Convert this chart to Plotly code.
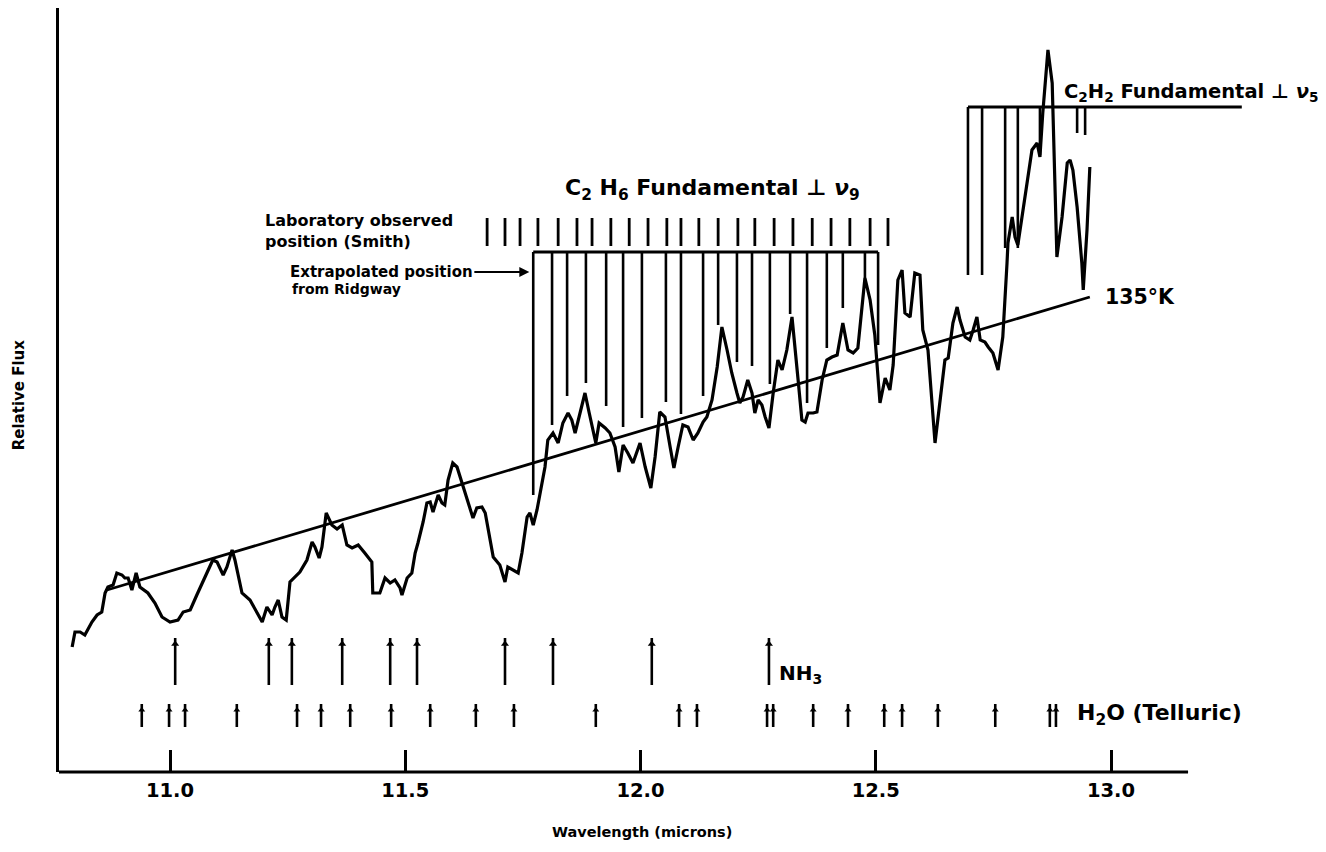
import plotly.graph_objects as go

# ---------------- data (wavelength in microns, relative flux in arbitrary units) ----------------
spec_wl = [10.792, 10.798, 10.809, 10.819, 10.834, 10.845, 10.855, 10.862, 10.868, 10.879,
           10.887, 10.898, 10.904, 10.911, 10.919, 10.928, 10.936, 10.953, 10.968, 10.983,
           11.000, 11.017, 11.028, 11.043, 11.057, 11.079, 11.091, 11.100, 11.113, 11.121,
           11.132, 11.138, 11.153, 11.170, 11.185, 11.196, 11.206, 11.217, 11.223, 11.230,
           11.238, 11.247, 11.255, 11.266, 11.276, 11.291, 11.302, 11.308, 11.317, 11.323,
           11.332, 11.344, 11.355, 11.366, 11.376, 11.387, 11.400, 11.414, 11.429, 11.431,
           11.446, 11.457, 11.468, 11.478, 11.489, 11.493, 11.504, 11.514, 11.521, 11.527,
           11.538, 11.546, 11.553, 11.559, 11.570, 11.578, 11.584, 11.591, 11.601, 11.610,
           11.623, 11.633, 11.644, 11.652, 11.663, 11.670, 11.676, 11.687, 11.701, 11.712,
           11.718, 11.729, 11.740, 11.748, 11.759, 11.765, 11.772, 11.780, 11.791, 11.797,
           11.803, 11.814, 11.825, 11.835, 11.846, 11.854, 11.861, 11.871, 11.882, 11.891,
           11.899, 11.905, 11.912, 11.925, 11.935, 11.946, 11.954, 11.963, 11.973, 11.984,
           11.999, 12.010, 12.022, 12.031, 12.041, 12.052, 12.063, 12.071, 12.080, 12.090,
           12.101, 12.112, 12.122, 12.133, 12.141, 12.152, 12.163, 12.173, 12.184, 12.194,
           12.205, 12.211, 12.218, 12.228, 12.237, 12.243, 12.250, 12.258, 12.265, 12.273,
           12.282, 12.292, 12.301, 12.311, 12.322, 12.328, 12.335, 12.343, 12.350, 12.356,
           12.367, 12.375, 12.386, 12.396, 12.407, 12.418, 12.430, 12.441, 12.452, 12.462,
           12.471, 12.477, 12.488, 12.498, 12.509, 12.520, 12.530, 12.537, 12.547, 12.556,
           12.562, 12.573, 12.583, 12.594, 12.600, 12.611, 12.626, 12.637, 12.647, 12.654,
           12.664, 12.673, 12.679, 12.690, 12.700, 12.707, 12.715, 12.722, 12.732, 12.739,
           12.749, 12.760, 12.770, 12.779, 12.781, 12.790, 12.796, 12.802, 12.811, 12.821,
           12.832, 12.843, 12.849, 12.855, 12.864, 12.866, 12.875, 12.881, 12.885, 12.896,
           12.907, 12.913, 12.919, 12.928, 12.938, 12.941, 12.949, 12.955]
spec_flux = [12.5, 14.0, 14.0, 13.7, 15.0, 15.7, 16.0, 17.9, 18.5, 18.7,
             19.9, 19.7, 19.4, 19.4, 18.2, 19.9, 18.5, 17.9, 16.9, 15.5,
             15.0, 15.2, 16.0, 16.2, 17.7, 20.0, 21.2, 21.0, 19.7, 20.5,
             22.2, 21.2, 17.9, 17.2, 15.9, 15.0, 16.5, 15.7, 16.5, 17.2,
             15.5, 15.2, 19.0, 19.5, 20.0, 21.2, 23.0, 22.5, 21.4, 22.5,
             25.9, 24.7, 24.3, 24.7, 22.7, 22.4, 22.7, 21.9, 21.0, 17.9,
             17.9, 19.4, 18.9, 19.2, 18.4, 17.7, 19.4, 19.9, 21.9, 22.9,
             25.0, 26.9, 27.0, 26.0, 27.7, 26.9, 26.7, 29.2, 30.9, 30.5,
             28.5, 27.2, 25.4, 26.4, 26.5, 25.9, 24.2, 21.5, 20.7, 19.0,
             20.5, 20.2, 19.9, 21.9, 25.5, 25.9, 24.7, 26.2, 28.9, 30.5,
             33.2, 33.9, 32.9, 34.9, 35.9, 35.2, 33.9, 35.9, 37.9, 35.9,
             34.2, 32.9, 34.9, 34.4, 33.9, 32.5, 30.0, 32.7, 31.9, 30.9,
             32.9, 30.5, 28.4, 31.5, 36.0, 35.5, 32.5, 30.4, 32.5, 34.7,
             34.5, 33.2, 33.9, 35.0, 35.5, 37.2, 40.5, 44.5, 42.2, 39.9,
             37.9, 36.9, 37.5, 39.2, 37.9, 35.9, 37.2, 36.7, 35.5, 34.4,
             37.9, 41.2, 40.2, 42.2, 45.5, 42.9, 39.2, 35.2, 35.0, 35.9,
             35.9, 36.0, 39.2, 41.2, 41.5, 41.7, 44.9, 42.2, 41.9, 42.4,
             46.5, 49.4, 47.2, 43.7, 36.9, 39.4, 38.2, 40.7, 49.2, 50.2,
             45.9, 45.5, 49.9, 49.7, 44.2, 42.2, 32.9, 37.5, 41.2, 41.4,
             44.9, 46.5, 45.2, 43.5, 43.2, 44.2, 45.5, 43.2, 43.0, 42.5,
             41.9, 40.2, 43.5, 50.9, 52.9, 55.5, 53.5, 52.7, 55.5, 58.9,
             62.2, 62.9, 61.5, 65.9, 70.5, 72.2, 68.9, 57.5, 51.5, 55.5,
             60.9, 61.2, 60.2, 56.5, 50.9, 48.2, 54.2, 60.5]

# 135 K continuum
cont_wl = [10.866, 12.955]
cont_flux = [18.2, 47.5]

# C2H6 extrapolated positions (Ridgway): hang from the bar down to these levels
c2h6_bar_flux = 52.0
c2h6_wl = [11.772, 11.812, 11.844, 11.884, 11.927, 11.963, 12.003, 12.054, 12.086, 12.133,
           12.165, 12.205, 12.237, 12.275, 12.318, 12.354, 12.396, 12.430, 12.477, 12.505]
c2h6_bottom = [27.7, 34.7, 37.6, 38.9, 36.6, 34.5, 35.4, 37.0, 35.8, 37.6,
               44.7, 41.0, 40.6, 38.8, 45.8, 36.9, 42.4, 46.4, 49.4, 42.7]

# C2H6 laboratory observed positions (Smith)
lab_wl = [11.674, 11.712, 11.744, 11.782, 11.825, 11.865, 11.897, 11.937, 11.976, 12.016,
          12.056, 12.086, 12.124, 12.165, 12.207, 12.243, 12.284, 12.324, 12.365, 12.405,
          12.445, 12.488, 12.526]
lab_lo, lab_hi = 52.6, 55.4

# C2H2 positions
c2h2_bar_flux = 66.5
c2h2_bar_wl = [12.696, 13.278]
c2h2_wl = [12.696, 12.726, 12.775, 12.802, 12.849, 12.928, 12.945]
c2h2_bottom = [49.7, 49.7, 52.4, 52.4, 61.7, 63.9, 63.7]

# NH3 lines
nh3_wl = [11.011, 11.210, 11.259, 11.366, 11.468, 11.525, 11.712, 11.814, 12.024, 12.273]
nh3_lo, nh3_hi = 8.7, 13.4

# Telluric H2O lines
h2o_wl = [10.940, 10.998, 11.032, 11.142, 11.270, 11.321, 11.383, 11.470, 11.553, 11.650,
          11.731, 11.905, 12.082, 12.120, 12.269, 12.282, 12.367, 12.441, 12.518, 12.556,
          12.632, 12.754, 12.870, 12.883]
h2o_lo, h2o_hi = 4.5, 6.8

tick_vals = [11.0, 11.5, 12.0, 12.5, 13.0]
tick_text = ["11.0", "11.5", "12.0", "12.5", "13.0"]

FONT = "DejaVu Sans"
BLACK = "#000000"


def vsegs(xs, lo, hi):
    x, y = [], []
    for i, xv in enumerate(xs):
        l = lo[i] if isinstance(lo, list) else lo
        h = hi[i] if isinstance(hi, list) else hi
        x += [xv, xv, None]
        y += [l, h, None]
    return x, y


fig = go.Figure()

# spectrum
fig.add_trace(go.Scatter(x=spec_wl, y=spec_flux, mode="lines",
                         line=dict(color=BLACK, width=3.2), hoverinfo="skip"))
# continuum
fig.add_trace(go.Scatter(x=cont_wl, y=cont_flux, mode="lines",
                         line=dict(color=BLACK, width=2.8), hoverinfo="skip"))

# C2H6 bar + hanging lines
fig.add_trace(go.Scatter(x=[c2h6_wl[0], c2h6_wl[-1]], y=[c2h6_bar_flux, c2h6_bar_flux],
                         mode="lines", line=dict(color=BLACK, width=3), hoverinfo="skip"))
hx, hy = vsegs(c2h6_wl, c2h6_bottom, c2h6_bar_flux)
fig.add_trace(go.Scatter(x=hx, y=hy, mode="lines", line=dict(color=BLACK, width=2.6),
                         hoverinfo="skip"))
# lab ticks
lx, ly = vsegs(lab_wl, lab_lo, lab_hi)
fig.add_trace(go.Scatter(x=lx, y=ly, mode="lines", line=dict(color=BLACK, width=2.8),
                         hoverinfo="skip"))

# C2H2 bar + hanging lines
fig.add_trace(go.Scatter(x=c2h2_bar_wl, y=[c2h2_bar_flux, c2h2_bar_flux], mode="lines",
                         line=dict(color=BLACK, width=3), hoverinfo="skip"))
cx, cy = vsegs(c2h2_wl, c2h2_bottom, c2h2_bar_flux)
fig.add_trace(go.Scatter(x=cx, y=cy, mode="lines", line=dict(color=BLACK, width=2.6),
                         hoverinfo="skip"))

# NH3 arrows
nx, ny = vsegs(nh3_wl, nh3_lo, nh3_hi)
fig.add_trace(go.Scatter(x=nx, y=ny, mode="lines", line=dict(color=BLACK, width=2.6),
                         hoverinfo="skip"))
fig.add_trace(go.Scatter(x=nh3_wl, y=[nh3_hi - 0.6] * len(nh3_wl), mode="markers",
                         marker=dict(symbol="triangle-up", size=7, color=BLACK),
                         hoverinfo="skip"))
# H2O arrows
wx, wy = vsegs(h2o_wl, h2o_lo, h2o_hi)
fig.add_trace(go.Scatter(x=wx, y=wy, mode="lines", line=dict(color=BLACK, width=2.6),
                         hoverinfo="skip"))
fig.add_trace(go.Scatter(x=h2o_wl, y=[h2o_hi - 0.6] * len(h2o_wl), mode="markers",
                         marker=dict(symbol="triangle-up", size=6, color=BLACK),
                         hoverinfo="skip"))


def txt(x, y, s, size, xanchor="left", **kw):
    fig.add_annotation(x=x, y=y, text=s, showarrow=False, xanchor=xanchor, yanchor="middle",
                       font=dict(family=FONT, size=size, color=BLACK), **kw)


txt(12.152, 58.3, "<b>C<sub>2</sub> H<sub>6</sub> Fundamental ⊥ <i>ν</i><sub>9</sub></b>", 22,
    xanchor="center")
txt(12.896, 68.0, "<b>C<sub>2</sub>H<sub>2</sub> Fundamental ⊥ <i>ν</i><sub>5</sub></b>", 19.5)
txt(11.198, 55.2, "<b>Laboratory observed</b>", 16)
txt(11.198, 53.1, "<b>position (Smith)</b>", 16)
fig.add_annotation(x=11.768, y=50.0, ax=-150, ay=0, axref="pixel", ayref="pixel",
                   text="<b>Extrapolated position</b>", showarrow=True, arrowhead=2,
                   arrowsize=1, arrowwidth=2, arrowcolor=BLACK, standoff=2,
                   font=dict(family=FONT, size=15, color=BLACK))
txt(11.255, 48.3, "<b>from Ridgway</b>", 14)
txt(12.983, 47.5, "<b>135°K</b>", 20.5)
txt(12.290, 9.8, "<b>NH<sub>3</sub></b>", 20)
txt(12.923, 5.8, "<b>H<sub>2</sub>O (Telluric)</b>", 22)

fig.add_annotation(x=0.4698, y=-0.079, xref="paper", yref="paper", showarrow=False,
                   text="<b>Wavelength (microns)</b>", xanchor="center", yanchor="middle",
                   font=dict(family=FONT, size=14.5, color=BLACK))
fig.add_annotation(x=-0.032, y=0.4935, xref="paper", yref="paper", showarrow=False,
                   text="<b>Relative Flux</b>", textangle=-90, xanchor="center",
                   yanchor="middle", font=dict(family=FONT, size=15, color=BLACK))

# x axis line (ends at 13.164 micron -> paper fraction)
fig.add_shape(type="line", xref="paper", yref="paper", x0=0, x1=0.9098, y0=0, y1=0,
              line=dict(color=BLACK, width=3))

# page body adds an 8px offset, so the figure is drawn 8px smaller and shifted
fig.update_layout(
    width=1318, height=844,
    margin=dict(l=51, r=26, t=0, b=80),
    paper_bgcolor="white", plot_bgcolor="white",
    showlegend=False,
    xaxis=dict(range=[10.76408, 13.40170], showgrid=False, zeroline=False, showline=False,
               tickvals=tick_vals, ticktext=["<b>%s</b>" % t for t in tick_text],
               ticks="inside", ticklen=22, tickwidth=2.5, tickcolor=BLACK,
               ticklabelstandoff=4,
               tickfont=dict(family=FONT, size=19.5, color=BLACK)),
    yaxis=dict(range=[0, 76.4], showgrid=False, zeroline=False, showline=True,
               linewidth=3, linecolor=BLACK, showticklabels=False, ticks=""),
)

fig.write_html("out.html")
